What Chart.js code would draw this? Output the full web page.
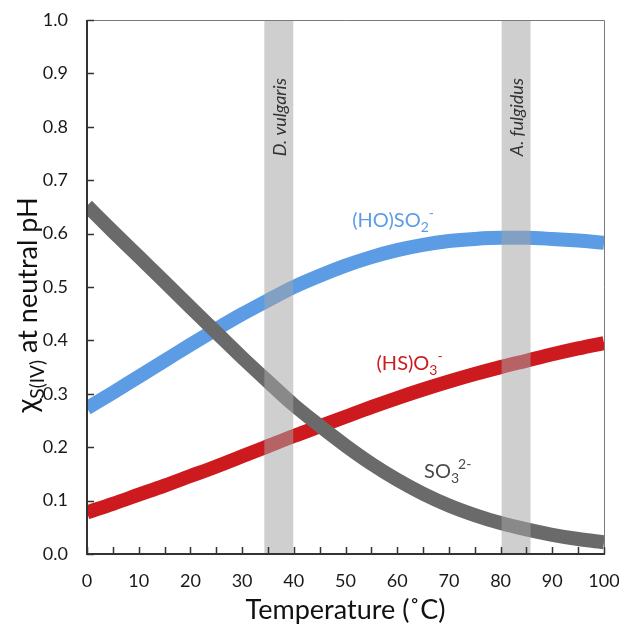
<!DOCTYPE html>
<html>
<head>
<meta charset="utf-8">
<script src="https://cdn.jsdelivr.net/npm/chart.js@4.4.0/dist/chart.umd.min.js"></script>
<style>
  html, body { margin: 0; padding: 0; background: #fff; }
  #wrap { width: 619px; height: 627px; }
</style>
</head>
<body>
<div id="wrap"><canvas id="chart"></canvas></div>
<script>
// Temperature (°C) and mole fractions
const temps = [0, 5, 10, 15, 20, 25, 30, 35, 40, 45, 50, 55, 60, 65, 70, 75, 80, 85, 90, 95, 100];
const hoso2 = [0.273, 0.302, 0.332, 0.362, 0.392, 0.421, 0.449, 0.475, 0.500, 0.521, 0.540, 0.556, 0.569, 0.579, 0.586, 0.590, 0.592, 0.592, 0.590, 0.587, 0.583];
const hso3 = [0.078, 0.094, 0.111, 0.128, 0.146, 0.164, 0.183, 0.202, 0.221, 0.239, 0.257, 0.275, 0.292, 0.308, 0.323, 0.337, 0.350, 0.362, 0.374, 0.385, 0.395];
const so3 = [0.652, 0.604, 0.557, 0.510, 0.462, 0.415, 0.368, 0.323, 0.279, 0.240, 0.203, 0.169, 0.139, 0.113, 0.091, 0.073, 0.058, 0.046, 0.036, 0.028, 0.022];

// growth temperatures of the two organisms
const bands = [
  { from: 34.3, to: 39.9, label: 'D. vulgaris' },
  { from: 80.2, to: 85.8, label: 'A. fulgidus' }
];

const FONT = 'Lato, "Open Sans", sans-serif';
const BLUE = 'rgb(91,156,229)';
const RED = 'rgb(204,26,30)';
const GREY = 'rgb(106,106,106)';

// draw a run of text pieces with sub/superscripts, starting at x, baseline y
function richText(ctx, x, y, parts, color) {
  ctx.fillStyle = color;
  ctx.textBaseline = 'alphabetic';
  ctx.textAlign = 'left';
  let cx = x;
  parts.forEach(p => {
    ctx.font = (p.style || '') + ' ' + p.size + 'px ' + FONT;
    ctx.fillText(p.t, cx, y + (p.dy || 0));
    cx += ctx.measureText(p.t).width;
  });
  return cx - x;
}

function richWidth(ctx, parts) {
  let w = 0;
  parts.forEach(p => {
    ctx.font = (p.style || '') + ' ' + p.size + 'px ' + FONT;
    w += ctx.measureText(p.t).width;
  });
  return w;
}

const decorations = {
  id: 'decorations',
  afterDatasetsDraw(chart) {
    const { ctx, chartArea: a, scales: { x, y } } = chart;
    ctx.save();

    // grey bands on top of the curves
    bands.forEach(b => {
      const x0 = x.getPixelForValue(b.from);
      const x1 = x.getPixelForValue(b.to);
      ctx.fillStyle = 'rgba(164,164,164,0.53)';
      ctx.fillRect(x0, a.top, x1 - x0, a.bottom - a.top);

      ctx.save();
      ctx.translate((x0 + x1) / 2, y.getPixelForValue(0.745));
      ctx.rotate(-Math.PI / 2);
      ctx.font = 'italic 18px ' + FONT;
      ctx.fillStyle = '#333';
      ctx.textAlign = 'left';
      ctx.textBaseline = 'middle';
      ctx.fillText(b.label, 0, 1);
      ctx.restore();
    });

    // series labels
    richText(ctx, x.getPixelForValue(51.3), y.getPixelForValue(0.612), [
      { t: '(HO)SO', size: 20 }, { t: '2', size: 14, dy: 5 }, { t: '-', size: 14, dy: -9 }
    ], BLUE);
    richText(ctx, x.getPixelForValue(56.0), y.getPixelForValue(0.345), [
      { t: '(HS)O', size: 20 }, { t: '3', size: 14, dy: 5 }, { t: '-', size: 14, dy: -9 }
    ], RED);
    const w = richText(ctx, x.getPixelForValue(65.2), y.getPixelForValue(0.142), [
      { t: 'SO', size: 20 }, { t: '3', size: 14, dy: 5 }
    ], '#4a4a4a');
    ctx.font = '14px ' + FONT;
    ctx.fillText('2-', x.getPixelForValue(65.2) + w - 1, y.getPixelForValue(0.142) - 9);

    // frame
    ctx.strokeStyle = '#7a7a7a';
    ctx.lineWidth = 1;
    ctx.beginPath();
    ctx.moveTo(a.left, a.top + 0.5);
    ctx.lineTo(a.right + 0.5, a.top + 0.5);
    ctx.lineTo(a.right + 0.5, a.bottom);
    ctx.stroke();

    ctx.strokeStyle = '#333';
    ctx.lineWidth = 2;
    ctx.beginPath();
    ctx.moveTo(a.left, a.top);
    ctx.lineTo(a.left, a.bottom);
    ctx.lineTo(a.right + 1, a.bottom);
    ctx.stroke();

    // inward tick marks
    ctx.lineWidth = 1.5;
    ctx.beginPath();
    for (let v = 0; v <= 1.0001; v += 0.1) {
      const py = Math.round(y.getPixelForValue(v)) + 0.5;
      ctx.moveTo(a.left, py);
      ctx.lineTo(a.left + 7, py);
    }
    for (let v = 0; v <= 100; v += 5) {
      const px = Math.round(x.getPixelForValue(v)) + 0.5;
      ctx.moveTo(px, a.bottom);
      ctx.lineTo(px, a.bottom - 7);
    }
    ctx.stroke();

    // axis titles
    ctx.fillStyle = '#111';
    ctx.font = '27px ' + FONT;
    ctx.textAlign = 'center';
    ctx.textBaseline = 'alphabetic';
    ctx.fillText('Temperature (\u02DAC)', (a.left + a.right) / 2, 619);

    const yParts = [
      { t: '\u03C7', size: 29 }, { t: 'S(IV)', size: 19, dy: 7 }, { t: ' at neutral pH', size: 27 }
    ];
    const tw = richWidth(ctx, yParts);
    ctx.save();
    ctx.translate(37, 305);
    ctx.rotate(-Math.PI / 2);
    richText(ctx, -tw / 2, 0, yParts, '#111');
    ctx.restore();

    ctx.restore();
  }
};

// keep Chart.js from adding room for overhanging tick labels
function noPad(s) {
  s.paddingLeft = 0; s.paddingRight = 0; s.paddingTop = 0; s.paddingBottom = 0;
}

const lineStyle = { borderWidth: 14, pointRadius: 0, fill: false, cubicInterpolationMode: 'monotone' };

new Chart(document.getElementById('chart'), {
  type: 'line',
  data: {
    labels: temps,
    datasets: [
      Object.assign({ label: 'SO3 2-', data: temps.map((t, i) => ({ x: t, y: so3[i] })), borderColor: GREY }, lineStyle),
      Object.assign({ label: '(HS)O3-', data: temps.map((t, i) => ({ x: t, y: hso3[i] })), borderColor: RED }, lineStyle),
      Object.assign({ label: '(HO)SO2-', data: temps.map((t, i) => ({ x: t, y: hoso2[i] })), borderColor: BLUE }, lineStyle)
    ]
  },
  options: {
    responsive: true,
    maintainAspectRatio: false,
    animation: false,
    layout: { padding: { top: 20, right: 15, left: 0, bottom: 0 } },
    plugins: { legend: { display: false }, tooltip: { enabled: false } },
    scales: {
      x: {
        type: 'linear', min: 0, max: 100,
        afterFit: s => { s.height = 73; noPad(s); },
        grid: { display: false, drawTicks: false },
        border: { display: false },
        ticks: { stepSize: 10, padding: 16, color: '#1a1a1a', font: { family: FONT, size: 18 }, maxRotation: 0 }
      },
      y: {
        min: 0, max: 1.0,
        afterFit: s => { s.width = 87; noPad(s); },
        grid: { display: false, drawTicks: false },
        border: { display: false },
        ticks: { stepSize: 0.1, padding: 19, color: '#1a1a1a', font: { family: FONT, size: 18 },
          callback: v => v.toFixed(1) }
      }
    }
  },
  plugins: [decorations]
});
</script>
</body>
</html>
